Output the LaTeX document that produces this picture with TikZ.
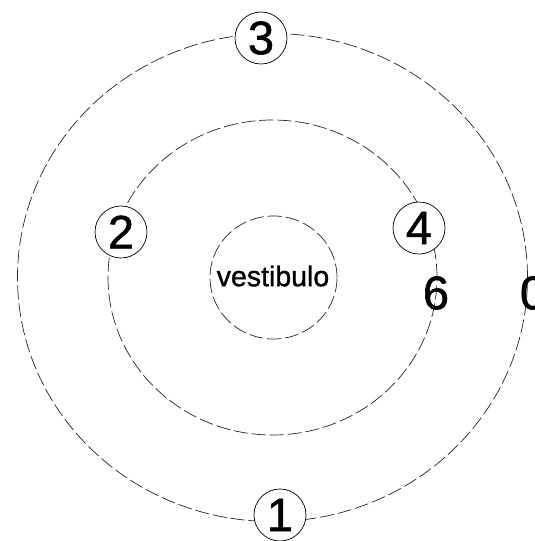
\documentclass[tikz,border=0pt]{standalone}
\usepackage{fontspec}
\setmainfont{Liberation Sans}
\newfontfamily\heavyfont[FakeBold=1.2]{Liberation Sans}
\begin{document}
\begin{tikzpicture}[x=1pt,y=-1pt,
  ring/.style={draw=black!85, line width=0.7pt, dash pattern=on 14pt off 4pt},
  numnode/.style={circle, draw=black, line width=0.7pt, fill=white, minimum size=52pt, inner sep=0pt, font=\heavyfont\fontsize{47}{47}\selectfont},
  plainnum/.style={inner sep=0pt, font=\heavyfont\fontsize{47}{47}\selectfont},
  vest/.style={inner sep=0pt, font=\heavyfont\fontsize{28.5}{28.5}\selectfont}]
\useasboundingbox (0,0) rectangle (535,541);
\fill[white] (0,0) rectangle (535,541);
\coordinate (c) at (272.5,277.5);
\draw[ring] (c) ellipse [x radius=255pt, y radius=244pt];
\draw[ring] (c) ellipse [x radius=164.5pt, y radius=157.5pt];
\draw[ring] (273.5,277.5) ellipse [x radius=63.5pt, y radius=61.5pt];
\node[vest] (v) at (273,276) {vestibulo};
\node[numnode] (n3) at (261,38) {3};
\node[numnode] (n2) at (121,232) {2};
\node[numnode] (n4) at (419,228) {4};
\node[numnode] (n1) at (280,515) {1};
\node[plainnum] (n6) at (436,293) {6};
\node[plainnum] (n0) at (533,293) {0};
\end{tikzpicture}
\end{document}
